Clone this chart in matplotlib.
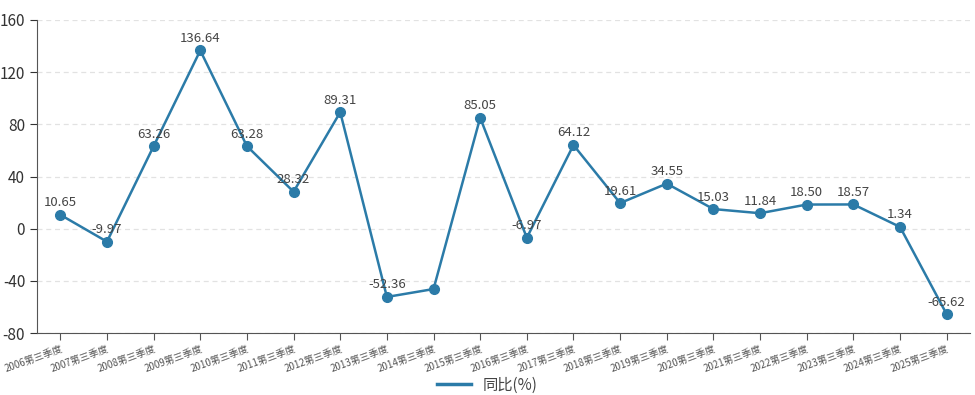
import matplotlib
matplotlib.use("Agg")
import matplotlib.pyplot as plt

plt.rcParams["font.family"] = ["Noto Sans CJK SC", "DejaVu Sans"]
plt.rcParams["axes.unicode_minus"] = False

quarters = [f"{y}第三季度" for y in range(2006, 2026)]
yoy = [10.65, -9.97, 63.26, 136.64, 63.28, 28.32, 89.31, -52.36, -46.3, 85.05,
       -6.97, 64.12, 19.61, 34.55, 15.03, 11.84, 18.50, 18.57, 1.34, -65.62]
# 2014 label is hidden in the original (overlaps)
show_label = [True] * len(yoy)
show_label[8] = False

color = "#2b7ba8"
W, H = 975, 395
fig = plt.figure(figsize=(W / 100, H / 100), dpi=100)
ax = fig.add_axes([37 / W, 1 - 333 / H, (970 - 37) / W, (333 - 20) / H])

x = list(range(len(yoy)))
line, = ax.plot(x, yoy, color=color, linewidth=1.8, marker="o", markersize=7, zorder=3)
for i, v in enumerate(yoy):
    if show_label[i]:
        ax.annotate(f"{v:.2f}", (i, v), xytext=(0, 4), textcoords="offset points",
                    ha="center", va="bottom", fontsize=9.5, color="#444444")

ax.set_xlim(-0.5, len(yoy) - 0.5)
ax.set_ylim(-80, 160)
ax.set_yticks(range(-80, 161, 40))
ax.tick_params(axis="y", labelsize=11, colors="#333333", length=5)
ax.set_xticks(x)
ax.set_xticklabels(quarters, rotation=20, ha="right", rotation_mode="anchor",
                   fontsize=7, color="#555555")
ax.tick_params(axis="x", length=5, color="#555555", pad=3)

ax.grid(axis="y", linestyle=(0, (4, 3)), color="#e2e2e2", linewidth=0.9)
ax.set_axisbelow(True)
for s in ["top", "right"]:
    ax.spines[s].set_visible(False)
for s in ["left", "bottom"]:
    ax.spines[s].set_color("#555555")

handle = plt.Line2D([], [], color=color, linewidth=2.5)
fig.legend([handle], ["同比(%)"], loc="center", bbox_to_anchor=(0.5, 1 - 385 / H),
           frameon=False, fontsize=11, handlelength=2.2, labelcolor="#444444")

fig.savefig("out.png", dpi=100)
